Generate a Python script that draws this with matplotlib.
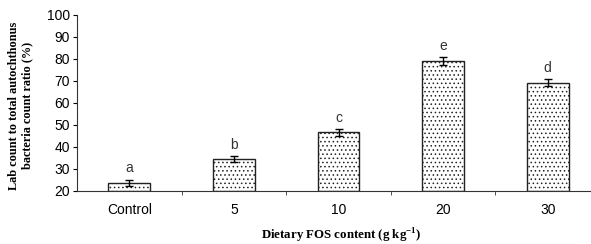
import matplotlib.pyplot as plt
import numpy as np

categories = ['Control', '5', '10', '20', '30']
values = [23.8, 34.4, 46.6, 79.2, 69.3]
errors = [1.4, 1.4, 1.5, 1.7, 1.5]
letters = ['a', 'b', 'c', 'e', 'd']

plt.rcParams['font.family'] = 'Liberation Sans'
plt.rcParams['hatch.linewidth'] = 0.6
plt.rcParams['mathtext.fontset'] = 'custom'
plt.rcParams['mathtext.rm'] = 'Liberation Serif'
plt.rcParams['mathtext.bf'] = 'Liberation Serif:bold'

fig = plt.figure(figsize=(5.91, 2.44), dpi=100)
ax = fig.add_axes([77 / 591, 53 / 244, 523 / 591, 176 / 244])

x = np.arange(len(categories))
ax.bar(x, [v - 20 for v in values], bottom=20, width=0.4, color='white',
       edgecolor='#222222', linewidth=1.0, hatch='....')
ax.errorbar(x, values, yerr=errors, fmt='none', ecolor='black',
            elinewidth=1.0, capsize=3, capthick=1.0)
for xi, v, e, l in zip(x, values, errors, letters):
    ax.text(xi, v + e + 2, l, ha='center', va='bottom', fontsize=10, color='#333333')

ax.set_xlim(-0.5, 4.5)
ax.set_ylim(20, 100)
ax.set_yticks(range(20, 101, 10))
ax.set_xticks(x)
ax.set_xticklabels(categories)
ax.set_xticks(np.arange(0.5, 4.5, 1), minor=True)
ax.tick_params(axis='x', which='major', length=0, pad=9, labelsize=10)
ax.tick_params(axis='x', which='minor', length=3, direction='out', color='#333333')
ax.tick_params(axis='y', length=3, direction='out', labelsize=10, pad=2)
for s in ['top', 'right']:
    ax.spines[s].set_visible(False)
for s in ['left', 'bottom']:
    ax.spines[s].set_color('#333333')

fig.text(0.035, 0.566, 'Lab count to total autochthonus\nbacteria count ratio (%)',
         rotation=90, ha='center', va='center', fontsize=8.8, fontweight='bold',
         family='Liberation Serif', linespacing=1.1)
fig.text(0.577, 0.035, 'Dietary FOS content (g kg$^{\\mathbf{-1}}$)', ha='center', va='center',
         fontsize=9.3, fontweight='bold', family='Liberation Serif')

fig.savefig('out.png', dpi=100)
